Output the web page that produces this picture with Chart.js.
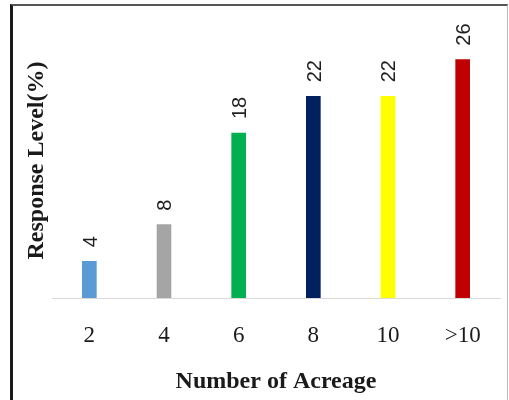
<!DOCTYPE html>
<html>
<head>
<meta charset="utf-8">
<script src="https://cdn.jsdelivr.net/npm/chart.js@4"></script>
<style>
  html, body { margin: 0; padding: 0; background: #ffffff; }
  #frame {
    position: absolute; left: 10px; top: 4px; width: 494px; height: 400px;
    border-left: 3px solid #1a1a1a; border-top: 2px solid #555555; border-right: 1px solid #bdbdbd;
  }
  #chart { position: absolute; left: 0; top: 0; }
</style>
</head>
<body>
<div id="frame"></div>
<canvas id="chart" width="509" height="400"></canvas>
<script>
// Share of respondents by farm size
const categories = ['2', '4', '6', '8', '10', '>10'];
const responseLevel = [4, 8, 18, 22, 22, 26];
const barColors = ['#5b9bd5', '#a5a5a5', '#00b050', '#002060', '#ffff00', '#c00000'];
const xTitle = 'Number of Acreage';
const yTitle = 'Response Level(%)';

// Value labels written upward above each bar
const rotatedValueLabels = {
  id: 'rotatedValueLabels',
  afterDatasetsDraw(chart) {
    const ctx = chart.ctx;
    const meta = chart.getDatasetMeta(0);
    const fs = 20;
    ctx.save();
    ctx.font = fs + 'px "Liberation Sans", Arial, sans-serif';
    ctx.fillStyle = '#1f1f1f';
    ctx.textAlign = 'left';
    ctx.textBaseline = 'alphabetic';
    meta.data.forEach((bar, i) => {
      ctx.save();
      ctx.translate(bar.x, bar.y - 14);
      ctx.rotate(-Math.PI / 2);
      ctx.fillText(String(responseLevel[i]), 0, fs * 0.36);
      ctx.restore();
    });
    ctx.restore();
  }
};

new Chart(document.getElementById('chart'), {
  type: 'bar',
  data: {
    labels: categories,
    datasets: [{
      data: responseLevel,
      backgroundColor: barColors,
      borderWidth: 0,
      barThickness: 14
    }]
  },
  options: {
    responsive: false,
    animation: false,
    layout: { padding: { left: 22, right: 9, top: 23, bottom: 0 } },
    plugins: { legend: { display: false }, tooltip: { enabled: false } },
    scales: {
      x: {
        grid: { display: false, drawTicks: false },
        border: { display: true, color: '#d9d9d9', width: 1 },
        ticks: {
          color: '#1a1a1a',
          padding: 24,
          maxRotation: 0,
          font: { family: '"Liberation Serif", "Times New Roman", serif', size: 23 }
        },
        title: {
          display: true,
          text: xTitle,
          color: '#1a1a1a',
          padding: { top: 0, bottom: 4 },
          font: { family: '"Liberation Serif", "Times New Roman", serif', size: 24, weight: 'bold' }
        },
        afterFit(scale) { scale.height = 102; }
      },
      y: {
        min: 0,
        max: 30,
        grid: { display: false, drawTicks: false },
        border: { display: false },
        ticks: { display: false },
        title: {
          display: true,
          text: yTitle,
          color: '#1a1a1a',
          padding: { top: 0, bottom: 0 },
          font: { family: '"Liberation Serif", "Times New Roman", serif', size: 24, weight: 'bold' }
        },
        afterFit(scale) { scale.width = 30; }
      }
    }
  },
  plugins: [rotatedValueLabels]
});
</script>
</body>
</html>
